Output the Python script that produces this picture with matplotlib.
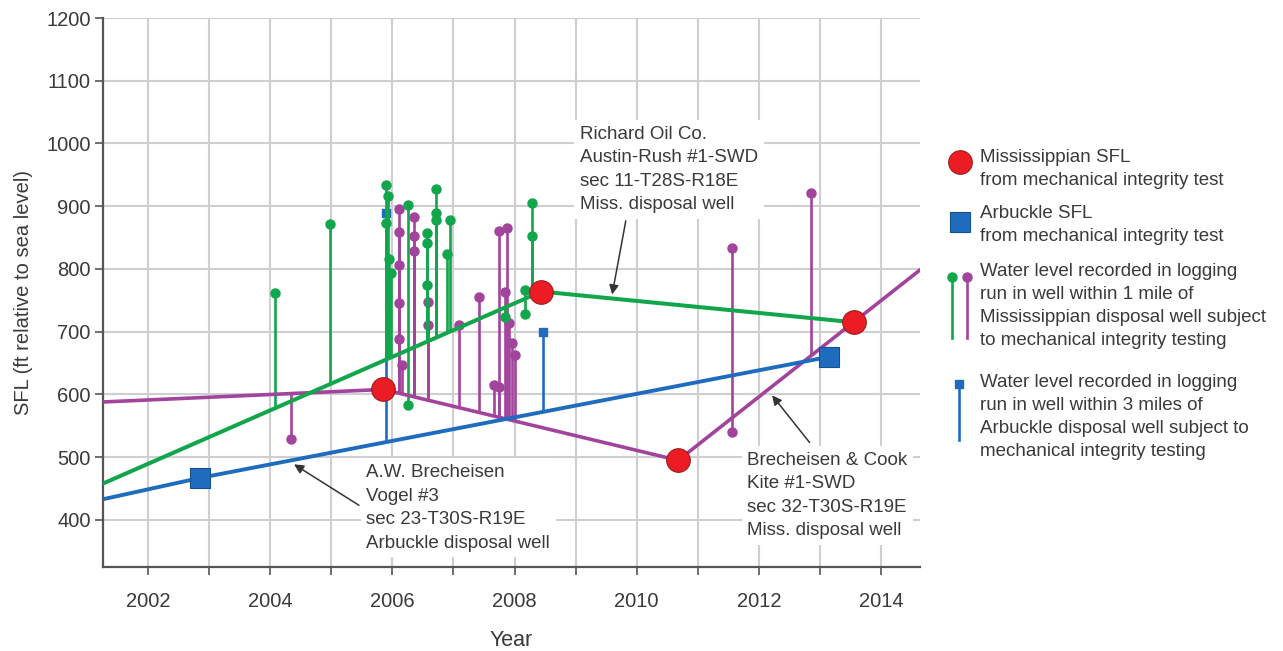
import numpy as np
import matplotlib
matplotlib.use("Agg")
import matplotlib.pyplot as plt

plt.rcParams['font.family'] = ['Liberation Sans', 'DejaVu Sans']

# colours
RED = '#ec1c24'
BLUE = '#1f6cbf'
GREEN = '#12a64c'
PURPLE = '#a2449c'
TXT = '#3a3a3a'
GRID = '#cfcfd3'

# trend lines through the mechanical integrity test SFLs
green_yr = [2001.26, 2008.44, 2013.56]
green_val = [458, 764, 715]
purple_yr = [2001.26, 2005.85, 2010.68, 2014.66]
purple_val = [588, 608, 495, 800]
blue_yr = [2001.26, 2002.85, 2013.15]
blue_val = [433, 467, 660]

# Mississippian SFL (red circles)
miss_yr = [2005.85, 2008.44, 2010.68, 2013.56]
miss_val = [608, 764, 495, 715]
# Arbuckle SFL (blue squares)
arb_yr = [2002.85, 2013.15]
arb_val = [467, 660]

# logging-run water levels, green wells (Richard Oil Co.)
g_stem_yr = [2004.08, 2004.98, 2005.90, 2005.92, 2005.90, 2005.94, 2005.97,
             2006.25, 2006.25, 2006.56, 2006.56, 2006.56, 2006.71, 2006.71,
             2006.71, 2006.89, 2006.95, 2007.84, 2008.17, 2008.17, 2008.28, 2008.28]
g_stem_val = [762, 872, 934, 916, 873, 816, 794,
              902, 583, 858, 841, 774, 927, 890,
              878, 824, 878, 724, 767, 729, 905, 852]

# purple wells (Brecheisen & Cook)
p_stem_yr = [2004.34, 2006.11, 2006.11, 2006.11, 2006.11, 2006.11, 2006.16,
             2006.35, 2006.35, 2006.35, 2006.59, 2006.59, 2007.09, 2007.42,
             2007.75, 2007.87, 2007.84, 2007.91, 2007.96, 2008.00, 2007.67,
             2007.75, 2011.56, 2011.56, 2012.85]
p_stem_val = [529, 896, 859, 806, 746, 688, 647,
              883, 852, 828, 748, 711, 711, 756,
              860, 865, 764, 714, 682, 663, 615,
              612, 833, 540, 921]

# blue wells (A.W. Brecheisen, Arbuckle)
b_stem_yr = [2005.90, 2008.46]
b_stem_val = [889, 700]

year_ticks = list(range(2002, 2015))
val_ticks = list(range(400, 1201, 100))

fig = plt.figure(figsize=(12.83, 6.51), dpi=100)
ax = fig.add_axes([103/1283, 1 - 567/651, (920 - 103)/1283, (567 - 18)/651])

# stems, drawn from the trend line to the recorded level
def stems(yrs, vals, line_yr, line_val, color, marker, ms, z):
    base = np.interp(yrs, line_yr, line_val)
    for x, v, b in zip(yrs, vals, base):
        ax.plot([x, x], [b, v], color=color, lw=1.9, zorder=z, solid_capstyle='butt')
        ax.plot(x, v, marker=marker, color=color, ms=ms, mec=color, zorder=z)

stems(b_stem_yr, b_stem_val, blue_yr, blue_val, BLUE, 's', 6, 3)
stems(p_stem_yr, p_stem_val, purple_yr, purple_val, PURPLE, 'o', 6.5, 3)
stems(g_stem_yr, g_stem_val, green_yr, green_val, GREEN, 'o', 6.5, 3)

ax.plot(purple_yr, purple_val, color=PURPLE, lw=2.6, zorder=4)
ax.plot(blue_yr, blue_val, color=BLUE, lw=2.8, zorder=4)
ax.plot(green_yr, green_val, color=GREEN, lw=2.9, zorder=4)

ax.plot(miss_yr, miss_val, 'o', ms=17, mfc=RED, mec='#9a1d1d', mew=0.8, zorder=6)
ax.plot(arb_yr, arb_val, 's', ms=15, mfc=BLUE, mec='#16508e', mew=0.8, zorder=6)

ax.set_xlim(2001.26, 2014.64)
ax.set_ylim(325, 1200)
ax.set_xticks(year_ticks)
ax.set_xticklabels([str(y) if y % 2 == 0 else '' for y in year_ticks])
ax.set_yticks(val_ticks)
ax.grid(True, color=GRID, lw=1.5, zorder=0)
ax.set_axisbelow(True)
for s in ['top', 'right']:
    ax.spines[s].set_visible(False)
for s in ['left', 'bottom']:
    ax.spines[s].set_color('#555555')
    ax.spines[s].set_linewidth(1.6)
ax.tick_params(axis='both', direction='out', length=6, width=1.2, color='#555555',
               labelsize=14.5, labelcolor=TXT)
ax.tick_params(axis='x', pad=12)
ax.tick_params(axis='y', pad=3)
ax.set_xlabel('Year', fontsize=15.5, color=TXT, labelpad=14)
ax.set_ylabel('SFL (ft relative to sea level)', fontsize=14.5, color=TXT, labelpad=9)

# well annotations
box = dict(facecolor='white', edgecolor='none', pad=4)
arrow = dict(arrowstyle='-|>', color='#333333', lw=1.1, mutation_scale=14)
ax.text(2009.07, 1028, 'Richard Oil Co.\nAustin-Rush #1-SWD\nsec 11-T28S-R18E\nMiss. disposal well',
        fontsize=13.5, color=TXT, va='top', ha='left', linespacing=1.5, bbox=box, zorder=7)
ax.annotate('', xy=(2009.59, 755), xytext=(2009.83, 881), arrowprops=arrow, zorder=7)

ax.text(2005.57, 489, 'A.W. Brecheisen\nVogel #3\nsec 23-T30S-R19E\nArbuckle disposal well',
        fontsize=13.5, color=TXT, va='top', ha='left', linespacing=1.5, bbox=box, zorder=7)
ax.annotate('', xy=(2004.35, 491), xytext=(2005.49, 421), arrowprops=arrow, zorder=7)

ax.text(2011.81, 509, 'Brecheisen & Cook\nKite #1-SWD\nsec 32-T30S-R19E\nMiss. disposal well',
        fontsize=13.5, color=TXT, va='top', ha='left', linespacing=1.5, bbox=box, zorder=7)
ax.annotate('', xy=(2012.19, 602), xytext=(2012.86, 520), arrowprops=arrow, zorder=7)

# legend drawn in its own pixel-like panel
lg = fig.add_axes([920/1283, 0, 363/1283, 1])
lg.set_xlim(920, 1283)
lg.set_ylim(651, 0)
lg.axis('off')
lg.plot(960, 162, 'o', ms=17, mfc=RED, mec='#9a1d1d', mew=0.8)
lg.plot(960, 222, 's', ms=15, mfc=BLUE, mec='#16508e', mew=0.8)
lg.plot([952, 952], [277, 338], color=GREEN, lw=1.9)
lg.plot(952, 277, 'o', ms=6.5, color=GREEN)
lg.plot([967, 967], [277, 338], color=PURPLE, lw=1.9)
lg.plot(967, 277, 'o', ms=6.5, color=PURPLE)
lg.plot([959, 959], [384, 440], color=BLUE, lw=1.9)
lg.plot(959, 384, 's', ms=6, color=BLUE)
legend_text = [
    (149, 'Mississippian SFL\nfrom mechanical integrity test'),
    (205, 'Arbuckle SFL\nfrom mechanical integrity test'),
    (263, 'Water level recorded in logging\nrun in well within 1 mile of\n'
          'Mississippian disposal well subject\nto mechanical integrity testing'),
    (374, 'Water level recorded in logging\nrun in well within 3 miles of\n'
          'Arbuckle disposal well subject to\nmechanical integrity testing'),
]
for y, t in legend_text:
    lg.text(980, y, t, fontsize=13.5, color=TXT, va='top', ha='left', linespacing=1.45)

fig.savefig('out.png', dpi=100)
